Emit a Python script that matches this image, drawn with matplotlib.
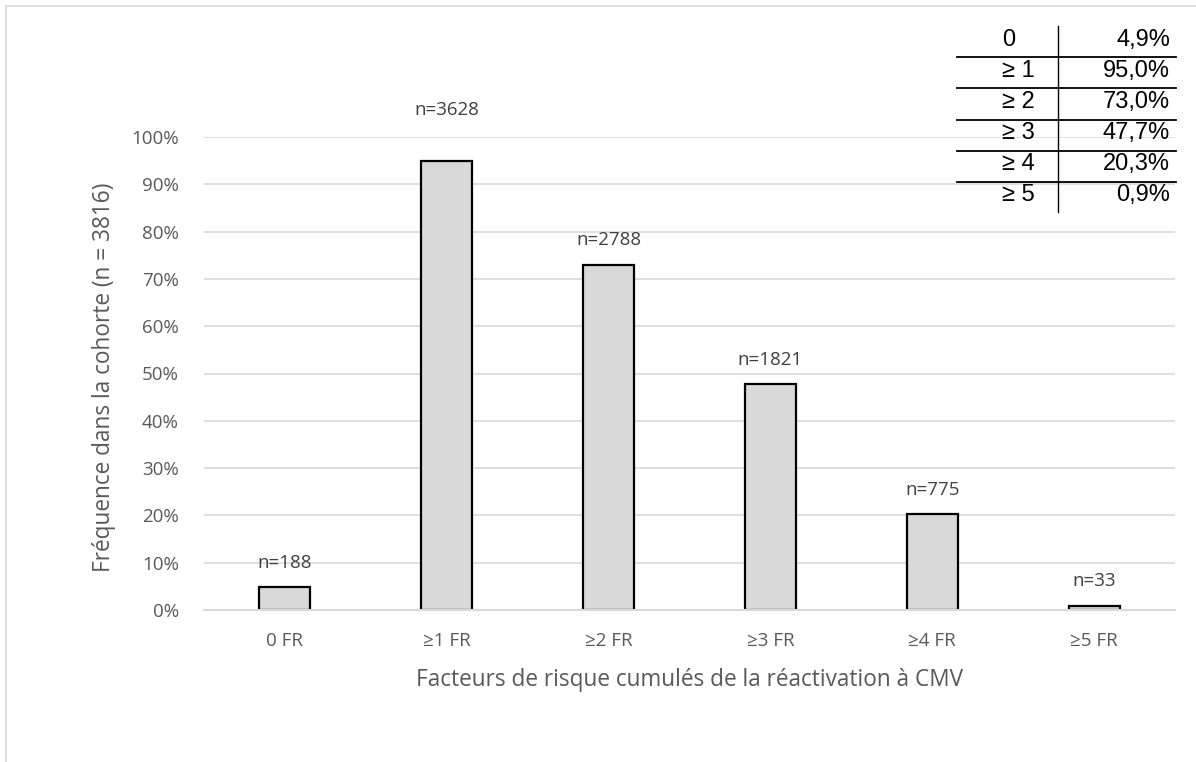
import matplotlib.pyplot as plt
from matplotlib.patches import Rectangle
from matplotlib.lines import Line2D

# === data ===
categories = ["0 FR", "≥1 FR", "≥2 FR", "≥3 FR", "≥4 FR", "≥5 FR"]
percents = [4.9, 95.0, 73.0, 47.7, 20.3, 0.9]
counts = [188, 3628, 2788, 1821, 775, 33]
table_labels = ["0", "≥ 1", "≥ 2", "≥ 3", "≥ 4", "≥ 5"]
table_values = ["4,9%", "95,0%", "73,0%", "47,7%", "20,3%", "0,9%"]

W, H = 1196, 762
fig = plt.figure(figsize=(W / 100, H / 100), dpi=100)

def fx(px):
    return px / W

def fy(py):
    return 1 - py / H

# plot area in pixels: x 204..1175, y 137(100%)..610(0%)
ax = fig.add_axes([fx(204), fy(610), fx(1175 - 204), (610 - 137) / H])

grey_txt = "#595959"
font = ["Open Sans", "DejaVu Sans"]

x = range(len(categories))
ax.bar(x, percents, width=0.315, color="#d9d9d9", edgecolor="black",
       linewidth=1.6, zorder=2)
# the n=3628 label sits higher in the original
label_offsets = [11, 30, 11, 11, 11, 11]
for i, (p, n) in enumerate(zip(percents, counts)):
    ax.annotate(f"n={n}", (i, p), xytext=(0, label_offsets[i]),
                textcoords="offset points", ha="center", va="bottom",
                fontsize=13.5, color="#404040", family=font)

ax.set_xlim(-0.5, len(categories) - 0.5)
ax.set_ylim(0, 100)
ax.set_yticks(range(0, 101, 10))
ax.set_yticklabels([f"{v}%" for v in range(0, 101, 10)], family=font,
                   fontsize=13.5, color=grey_txt)
ax.set_xticks(list(x))
ax.set_xticklabels(categories, family=font, fontsize=13.5, color=grey_txt)
ax.tick_params(length=0, pad=18)
ax.tick_params(axis="x", pad=16)
ax.grid(axis="y", color="#d9d9d9", linewidth=1.2, zorder=0)
ax.set_axisbelow(True)
for s in ["top", "right", "left"]:
    ax.spines[s].set_visible(False)
ax.spines["bottom"].set_color("#d9d9d9")
ax.spines["bottom"].set_linewidth(1.5)
ax.spines["bottom"].set_zorder(3)

fig.text(fx(104), fy(377), "Fréquence dans la cohorte (n = 3816)", rotation=90,
         ha="center", va="center", fontsize=16.3, color=grey_txt, family=font)
fig.text(fx(690), fy(680), "Facteurs de risque cumulés de la réactivation à CMV",
         ha="center", va="center", fontsize=16.3, color=grey_txt, family=font)

# small table at top right
tfont = ["Liberation Sans Narrow", "Liberation Sans", "DejaVu Sans"]
row_y = [40, 71, 102, 133, 164, 195]
line_y = [57, 88, 120, 151, 182]
for ty, lab, val in zip(row_y, table_labels, table_values):
    fig.text(fx(1002), fy(ty), lab, ha="left", va="center", fontsize=17,
             family=tfont, color="black")
    fig.text(fx(1170), fy(ty), val, ha="right", va="center", fontsize=17,
             family=tfont, color="black")
for ly in line_y:
    fig.add_artist(Line2D([fx(957), fx(1176)], [fy(ly), fy(ly)],
                          color="black", linewidth=1.3))
fig.add_artist(Line2D([fx(1058), fx(1058)], [fy(26), fy(212)],
                      color="black", linewidth=1.0))

# chart border
fig.add_artist(Rectangle((fx(6), -0.1), 1.2, fy(6) + 0.1, fill=False,
                         edgecolor="#d9d9d9", linewidth=1.2,
                         transform=fig.transFigure))

fig.savefig("out.png", dpi=100, facecolor="white")
